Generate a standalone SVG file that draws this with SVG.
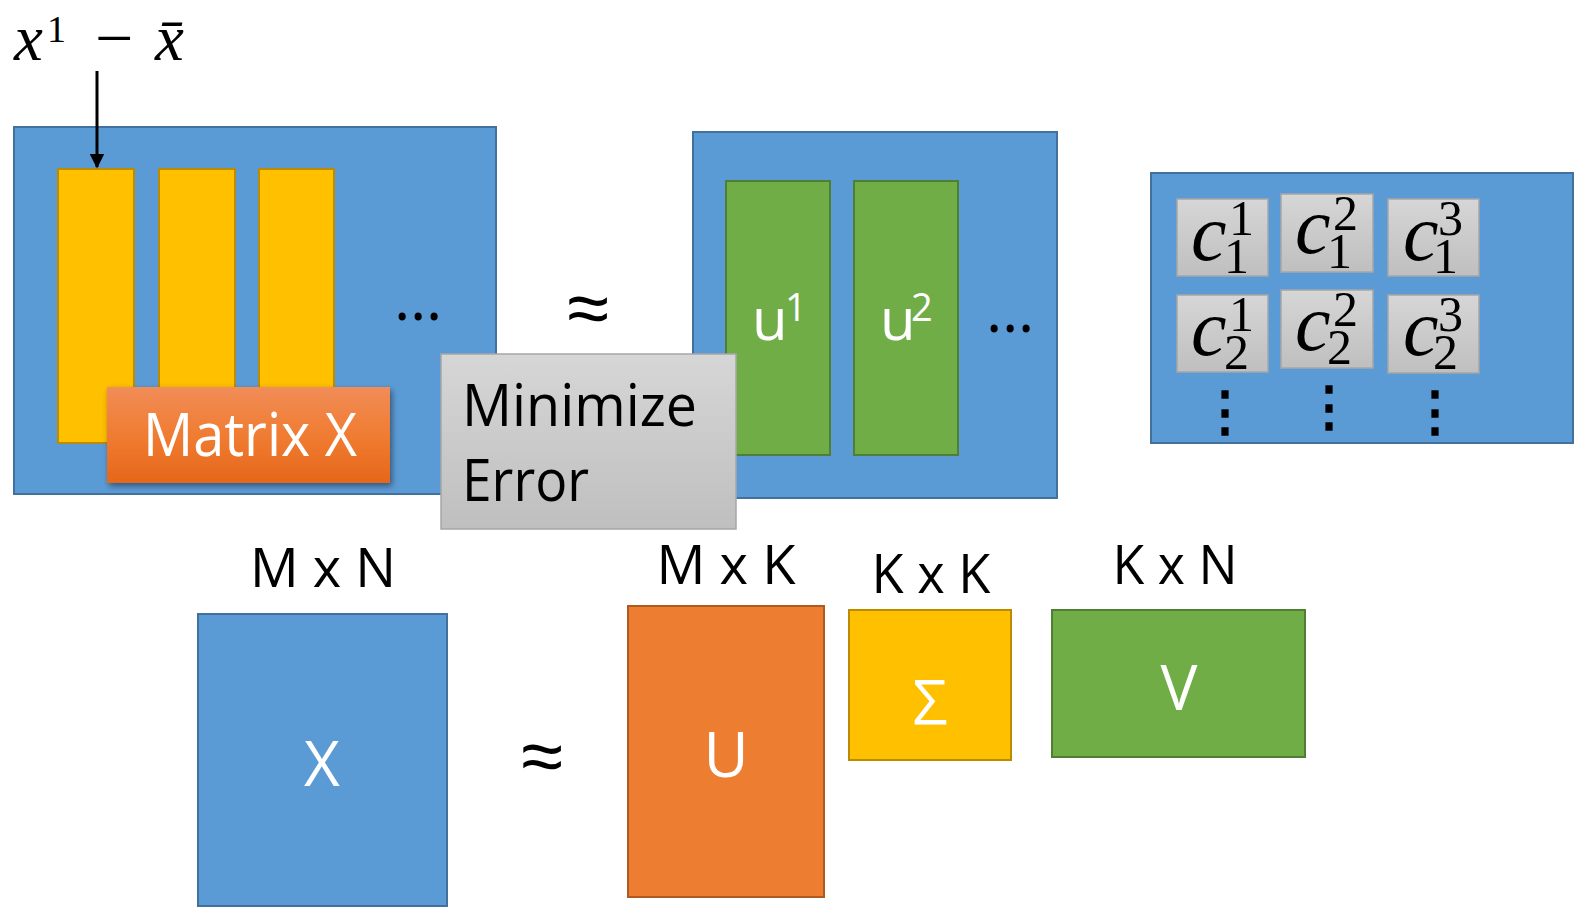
<svg xmlns="http://www.w3.org/2000/svg" width="1579" height="908" viewBox="0 0 1579 908">
  <defs>
    <linearGradient id="grayGrad" x1="0" y1="0" x2="0" y2="1">
      <stop offset="0" stop-color="#d6d6d6"/>
      <stop offset="1" stop-color="#bfbfbf"/>
    </linearGradient>
    <linearGradient id="orangeGrad" x1="0" y1="0" x2="0" y2="1">
      <stop offset="0" stop-color="#f18d58"/>
      <stop offset="0.5" stop-color="#f07c32"/>
      <stop offset="1" stop-color="#e5671b"/>
    </linearGradient>
    <filter id="shadow" x="-10%" y="-10%" width="130%" height="140%">
      <feDropShadow dx="2" dy="3" stdDeviation="3" flood-color="#000" flood-opacity="0.45"/>
    </filter>
    <marker id="arrow" viewBox="0 0 10 10" refX="9" refY="5" markerWidth="5" markerHeight="5" markerUnits="strokeWidth" orient="auto">
      <path d="M0,0 L10,5 L0,10 z" fill="#000"/>
    </marker>
  </defs>
  <style>
    .blue { fill: #5b9bd5; stroke: #41719c; stroke-width: 2; }
    .yellow { fill: #ffc000; stroke: #bc8c00; stroke-width: 2; }
    .green { fill: #70ad47; stroke: #507e32; stroke-width: 2; }
    .orange { fill: #ed7d31; stroke: #ae5a21; stroke-width: 2; }
    .gray { fill: url(#grayGrad); stroke: #a6a6a6; stroke-width: 1.5; }
    .sans { font-family: "Open Sans", "Liberation Sans", sans-serif; }
    .white { fill: #ffffff; }
    .black { fill: #000000; }
    .math { font-family: "Liberation Serif", "DejaVu Serif", serif; fill: #000; }
    .it { font-style: italic; }
    .csym { font-size: 80px; font-style: italic; }
    .cidx { font-size: 50px; font-style: normal; }
    .dims { font-size: 54px; fill: #000; text-anchor: middle; }
    .big { font-size: 62px; fill: #fff; text-anchor: middle; }
    .approx { font-family: "Liberation Sans", sans-serif; font-size: 76px; text-anchor: middle; fill: #000; }
    .dots { font-family: "Open Sans", "Liberation Sans", sans-serif; font-size: 62px; text-anchor: middle; fill: #000; }
    .vdots { font-family: "Noto Sans CJK JP", "Noto Sans CJK SC", sans-serif; font-size: 54px; font-weight: 900; text-anchor: middle; fill: #000; }
  </style>

  <!-- formula above the first column -->
  <g id="formula">
    <text class="math" font-size="65"><tspan class="it" x="14" y="60">x</tspan><tspan x="47" y="42" font-size="38">1</tspan><tspan x="95" y="61" font-size="68">−</tspan><tspan class="it" x="155" y="60">x̄</tspan></text>
  </g>

  <!-- data matrix with its columns -->
  <g id="matrix-x">
    <rect class="blue" x="14" y="127" width="482" height="367"/>
    <rect class="yellow" x="58" y="169" width="76" height="274"/>
    <rect class="yellow" x="159" y="169" width="76" height="274"/>
    <rect class="yellow" x="259" y="169" width="75" height="274"/>
    <text class="dots" x="418" y="320">…</text>
  </g>

  <g id="matrix-x-label">
    <rect x="107" y="387" width="283" height="96" fill="url(#orangeGrad)" filter="url(#shadow)"/>
    <text class="sans white" x="143" y="456" font-size="60" textLength="214" lengthAdjust="spacingAndGlyphs">Matrix X</text>
  </g>

  <g id="approx-top">
    <text class="approx" x="588" y="334">≈</text>
  </g>

  <!-- components -->
  <g id="components">
    <rect class="blue" x="693" y="132" width="364" height="366"/>
    <rect class="green" x="726" y="181" width="104" height="274"/>
    <rect class="green" x="854" y="181" width="104" height="274"/>
    <text class="sans white" font-size="58"><tspan x="752" y="340">u</tspan><tspan x="785" y="321" font-size="38">1</tspan></text>
    <text class="sans white" font-size="58"><tspan x="880" y="340">u</tspan><tspan x="911" y="321" font-size="38">2</tspan></text>
    <text class="dots" x="1010" y="332">…</text>
  </g>

  <g id="minimize-error">
    <rect class="gray" x="441" y="354" width="295" height="175"/>
    <text class="sans black" x="462" y="426" font-size="58" textLength="235" lengthAdjust="spacingAndGlyphs">Minimize</text>
    <text class="sans black" x="462" y="501" font-size="58" textLength="127" lengthAdjust="spacingAndGlyphs">Error</text>
  </g>

  <!-- coefficient table -->
  <g id="coefficients">
    <rect class="blue" x="1151" y="173" width="422" height="270"/>

    <rect class="gray" x="1177" y="199" width="91" height="77"/>
    <rect class="gray" x="1281" y="194" width="92" height="78"/>
    <rect class="gray" x="1388" y="199" width="91" height="77"/>
    <rect class="gray" x="1177" y="295" width="91" height="77"/>
    <rect class="gray" x="1281" y="290" width="92" height="78"/>
    <rect class="gray" x="1388" y="295" width="91" height="78"/>

    <g class="math">
      <text class="csym"><tspan x="1191" y="260">c</tspan><tspan class="cidx" x="1229" y="235">1</tspan><tspan class="cidx" x="1224" y="273">1</tspan></text>
      <text class="csym"><tspan x="1295" y="253">c</tspan><tspan class="cidx" x="1333" y="230">2</tspan><tspan class="cidx" x="1327" y="268">1</tspan></text>
      <text class="csym"><tspan x="1403" y="260">c</tspan><tspan class="cidx" x="1438" y="235">3</tspan><tspan class="cidx" x="1433" y="273">1</tspan></text>
      <text class="csym"><tspan x="1191" y="355">c</tspan><tspan class="cidx" x="1229" y="331">1</tspan><tspan class="cidx" x="1224" y="369">2</tspan></text>
      <text class="csym"><tspan x="1295" y="350">c</tspan><tspan class="cidx" x="1333" y="326">2</tspan><tspan class="cidx" x="1327" y="364">2</tspan></text>
      <text class="csym"><tspan x="1403" y="355">c</tspan><tspan class="cidx" x="1438" y="331">3</tspan><tspan class="cidx" x="1433" y="369">2</tspan></text>
    </g>

    <text class="vdots" x="1225" y="430">⋮</text>
    <text class="vdots" x="1329" y="425">⋮</text>
    <text class="vdots" x="1435" y="430">⋮</text>
  </g>

  <!-- factorisation X ≈ U Σ V -->
  <g id="x-matrix">
    <text class="sans dims" x="323" y="587" textLength="146" lengthAdjust="spacingAndGlyphs">M x N</text>
    <rect class="blue" x="198" y="614" width="249" height="292"/>
    <text class="sans big" x="322" y="786">X</text>
  </g>

  <g id="approx-bottom">
    <text class="approx" x="542" y="782">≈</text>
  </g>

  <g id="u-matrix">
    <text class="sans dims" x="726" y="584" textLength="139" lengthAdjust="spacingAndGlyphs">M x K</text>
    <rect class="orange" x="628" y="606" width="196" height="291"/>
    <text class="sans big" x="726" y="777">U</text>
  </g>

  <g id="sigma-matrix">
    <text class="sans dims" x="931" y="593" textLength="119" lengthAdjust="spacingAndGlyphs">K x K</text>
    <rect class="yellow" x="849" y="610" width="162" height="150"/>
    <text class="sans big" x="930" y="725" font-size="74">Σ</text>
  </g>

  <g id="v-matrix">
    <text class="sans dims" x="1175" y="584" textLength="125" lengthAdjust="spacingAndGlyphs">K x N</text>
    <rect class="green" x="1052" y="610" width="253" height="147"/>
    <text class="sans big" x="1179" y="710">V</text>
  </g>

  <!-- connectors -->
  <g id="connectors">
    <line x1="97" y1="71" x2="97" y2="167" stroke="#000" stroke-width="3" marker-end="url(#arrow)"/>
  </g>
</svg>
